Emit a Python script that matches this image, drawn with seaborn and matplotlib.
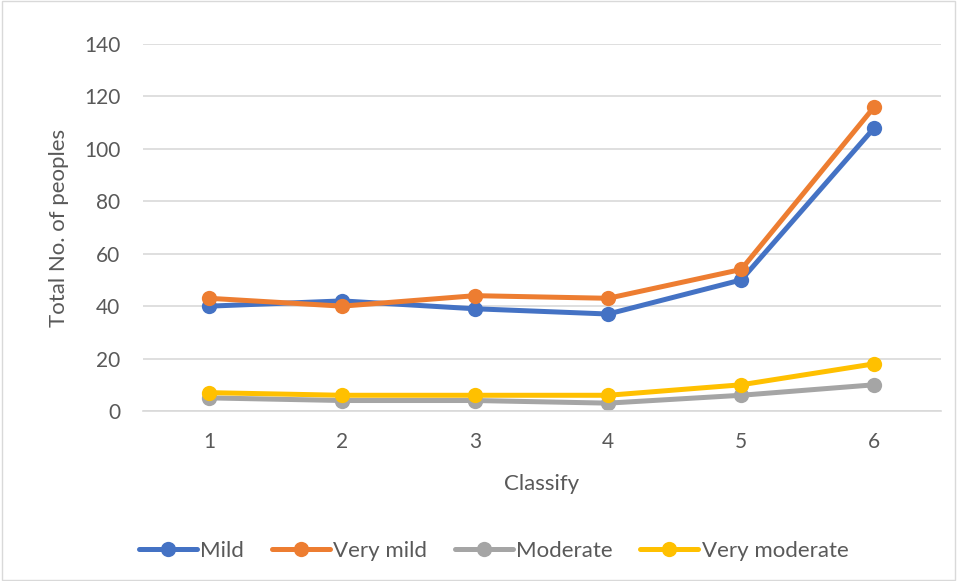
import matplotlib
matplotlib.use("Agg")
import matplotlib.pyplot as plt
import seaborn as sns
import pandas as pd
from matplotlib.patches import Rectangle

classes = [1, 2, 3, 4, 5, 6]
mild = [40, 42, 39, 37, 50, 108]
very_mild = [43, 40, 44, 43, 54, 116]
moderate = [5, 4, 4, 3, 6, 10]
very_moderate = [7, 6, 6, 6, 10, 18]
series_names = ["Mild", "Very mild", "Moderate", "Very moderate"]
colors = ["#4472C4", "#ED7D31", "#A5A5A5", "#FFC000"]
y_ticks = [0, 20, 40, 60, 80, 100, 120, 140]

rows = []
for name, vals in zip(series_names, [mild, very_mild, moderate, very_moderate]):
    for c, v in zip(classes, vals):
        rows.append({"Classify": c, "Total": v, "Series": name})
df = pd.DataFrame(rows)

sns.set_theme(style="white")
plt.rcParams["font.family"] = ["Lato", "DejaVu Sans"]

fig = plt.figure(figsize=(9.57, 5.81), dpi=100)
ax = fig.add_axes([0.149, 0.2926, 0.834, 0.6316])

sns.lineplot(data=df, x="Classify", y="Total", hue="Series", hue_order=series_names,
             palette=colors, marker="o", markersize=11, markeredgewidth=0,
             linewidth=3.6, ax=ax, legend=True)

ax.set_xlim(0.5, 6.5)
ax.set_ylim(0, 140)
ax.set_xticks(classes)
ax.set_yticks(y_ticks)
ax.tick_params(axis="both", labelsize=15, colors="#595959", length=0)
ax.tick_params(axis="y", pad=16)
ax.tick_params(axis="x", pad=15)
ax.grid(axis="y", color="#D9D9D9", linewidth=1.2)
ax.set_axisbelow(True)
for s in ["top", "right", "left"]:
    ax.spines[s].set_visible(False)
ax.spines["bottom"].set_color("#D9D9D9")
ax.spines["bottom"].set_linewidth(1.2)
ax.set_xlabel("Classify", fontsize=16, color="#595959", labelpad=16)
ax.set_ylabel("Total No. of peoples", fontsize=16, color="#595959", labelpad=11)

handles, labels = ax.get_legend_handles_labels()
ax.legend_.remove()
fig.legend(handles, labels, loc="center", bbox_to_anchor=(0.516, 0.052), ncol=4,
           frameon=False, fontsize=16, handlelength=2.6, handletextpad=0.15,
           columnspacing=1.25, labelcolor="#595959")

fig.patches.append(Rectangle((0.002, 0.002), 0.996, 0.996, transform=fig.transFigure,
                             fill=False, edgecolor="#D9D9D9", linewidth=1))

fig.savefig("out.png", dpi=100)
